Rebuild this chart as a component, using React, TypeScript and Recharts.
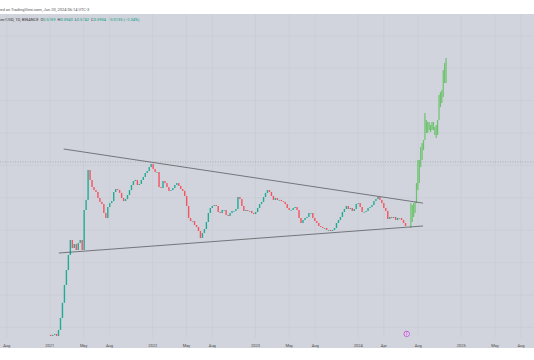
import React from 'react';
import { ComposedChart, Bar, XAxis, YAxis, CartesianGrid, ReferenceLine, ReferenceDot } from 'recharts';

const DAY = 86400000;

// weekly candles, first week starts 2021-01-04
const firstWeek = Date.UTC(2021, 0, 4);
const firstOpen = 0.0257;
const weeklyCloses = [
  0.0249, 0.0257, 0.0264, 0.0249, 0.0296, 0.0418, 0.0647, 0.108, 0.166, 0.256,
  0.394, 0.313, 0.351, 0.296, 0.362, 0.394, 0.296, 0.935, 1.25, 2.96,
  2.22, 1.81, 1.66, 1.57, 1.32, 1.18, 1.11, 0.858, 0.743, 1.02,
  1.14, 1.21, 1.57, 1.71, 1.66, 1.53, 1.32, 1.21, 1.28, 1.44,
  1.66, 1.92, 2.15, 2.22, 1.92, 1.98, 2.22, 2.42, 2.71, 2.87,
  3.22, 3.51, 3.04, 2.79, 2.79, 1.81, 1.76, 2.15, 2.03, 1.81,
  1.62, 1.66, 1.76, 1.92, 2.03, 1.87, 1.71, 1.62, 1.4, 1.05,
  0.743, 0.681, 0.681, 0.607, 0.573, 0.511, 0.418, 0.482, 0.541, 0.662,
  0.858, 0.99, 1.05, 1.08, 1.05, 0.883, 0.858, 0.935, 0.935, 0.81,
  0.787, 0.858, 0.909, 0.909, 0.962, 1.36, 1.28, 1.05, 0.909, 0.935,
  0.909, 0.909, 0.858, 0.833, 0.883, 0.99, 1.11, 1.18, 1.36, 1.53,
  1.66, 1.57, 1.4, 1.25, 1.32, 1.25, 1.25, 1.21, 1.18, 1.11,
  0.99, 0.935, 0.935, 0.99, 1.02, 0.935, 0.743, 0.643, 0.701, 0.743,
  0.765, 0.858, 0.858, 0.743, 0.681, 0.643, 0.59, 0.573, 0.557, 0.557,
  0.526, 0.526, 0.511, 0.526, 0.557, 0.643, 0.701, 0.765, 0.883, 0.962,
  1.05, 0.962, 0.99, 0.909, 0.962, 1.11, 1.14, 1.02, 0.883, 0.883,
  0.909, 0.99, 1.02, 1.08, 1.21, 1.28, 1.36, 1.25, 1.14, 0.99,
  0.909, 0.722, 0.765, 0.743, 0.765, 0.701, 0.743, 0.743, 0.701, 0.643,
  0.59,
];

// projected bars (bars pattern), every 5 days from 2024-07-06
const projStart = Date.UTC(2024, 6, 6);
const projLows = [
  0.557, 0.662, 0.765, 0.858, 1.14, 1.66, 2.03, 3.22, 3.94, 5.26,
  7.01, 8.58, 8.58, 9.35, 8.83, 9.35, 9.35, 8.1, 7.43, 8.1,
  12.47, 18.1, 20.3, 24.2, 36.2, 36.2,
];
const projHighs = [
  1.14, 1.08, 1.14, 1.18, 2.03, 3.94, 3.94, 5.73, 6.43, 7.01,
  15.25, 12.47, 11.77, 11.77, 10.8, 11.77, 11.77, 10.19, 10.8, 12.47,
  25.6, 27.9, 29.6, 52.6, 64.3, 74.3,
];

const allTimeHigh = 3.73;
const upperTrend = [
  { t: Date.UTC(2021, 1, 19), p: 5.41 },
  { t: Date.UTC(2024, 7, 18), p: 1.14 },
];
const lowerTrend = [
  { t: Date.UTC(2021, 1, 2), p: 0.271 },
  { t: Date.UTC(2024, 7, 18), p: 0.59 },
];

const tickTimes = [
  Date.UTC(2020, 7, 1), Date.UTC(2021, 0, 1), Date.UTC(2021, 4, 1), Date.UTC(2021, 7, 1),
  Date.UTC(2022, 0, 1), Date.UTC(2022, 4, 1), Date.UTC(2022, 7, 1),
  Date.UTC(2023, 0, 1), Date.UTC(2023, 4, 1), Date.UTC(2023, 7, 1),
  Date.UTC(2024, 0, 1), Date.UTC(2024, 3, 1), Date.UTC(2024, 7, 1),
  Date.UTC(2025, 0, 1), Date.UTC(2025, 4, 1), Date.UTC(2025, 7, 1),
];
const tickLabels = ['Aug', '2021', 'May', 'Aug', '2022', 'May', 'Aug', '2023', 'May', 'Aug', '2024', 'Apr', 'Aug', '2025', 'May', 'Aug'];

const gridPrices = [
  192, 141, 103, 75.5, 55.3, 40.5, 29.7, 21.8, 16.0, 11.7, 8.57, 6.28, 4.6, 3.37, 2.47,
  1.81, 1.33, 0.973, 0.713, 0.523, 0.383, 0.281, 0.206, 0.151, 0.11, 0.0809, 0.0593, 0.0434, 0.0318,
];

const eventDate = Date.UTC(2024, 5, 21);

const data = [
  ...weeklyCloses.map((c, i) => {
    const o = i === 0 ? firstOpen : weeklyCloses[i - 1];
    return { t: firstWeek + i * 7 * DAY, range: [Math.min(o, c), Math.max(o, c)], kind: c >= o ? 'up' : 'down' };
  }),
  ...projLows.map((lo, i) => ({ t: projStart + i * 5 * DAY, range: [lo, projHighs[i]], kind: 'proj' })),
];

const Candle = (props: any) => {
  const { x, y, width, height, payload } = props;
  if (x == null || y == null) return null;
  const cx = x + width / 2;
  const top = Math.min(y, y + height);
  const h = Math.max(Math.abs(height), 0.7);
  if (payload.kind === 'proj') {
    return <rect x={cx - 0.6} y={top} width={1.2} height={h} fill="#6cc36c" />;
  }
  return <rect x={cx - 0.7} y={top} width={1.4} height={h} fill={payload.kind === 'up' ? '#22ab94' : '#f7525f'} />;
};

const TimeTick = (props: any) => {
  const { x, y, payload } = props;
  const idx = tickTimes.indexOf(payload.value);
  return (
    <text x={x} y={y + 7} textAnchor="middle" fontSize={4} fill="#4a4a4a" fontFamily="Roboto">
      {tickLabels[idx]}
    </text>
  );
};

const EventMark = (props: any) => {
  const { cx, cy } = props;
  return (
    <g>
      <circle cx={cx} cy={cy} r={2.7} fill="#f3e5f5" stroke="#b04ad0" strokeWidth={0.8} />
      <text x={cx} y={cy + 1.2} textAnchor="middle" fontSize={3.2} fill="#9c27b0" fontFamily="Roboto">₿</text>
    </g>
  );
};

export default function App() {
  return (
    <div style={{ position: 'fixed', left: 0, top: 0, width: 534, height: 360, background: '#fff', overflow: 'hidden', fontFamily: 'Roboto, sans-serif' }}>
      <div style={{ position: 'absolute', left: 0, top: 14, width: 534, height: 334, background: '#d1d4dc' }} />
      <div style={{ position: 'absolute', left: -1, top: 7, fontSize: 4, color: '#555', whiteSpace: 'nowrap', lineHeight: '5px' }}>
        ted on TradingView.com, Jun 20, 2024 06:14 UTC-3
      </div>
      <div style={{ position: 'absolute', left: -1, top: 17, fontSize: 4, color: '#333', whiteSpace: 'pre', lineHeight: '5px' }}>
        {'ver/USD, 1D, BINANCE  '}
        <span>O</span><span style={{ color: '#089981' }}>{'0.5769  '}</span>
        <span>H</span><span style={{ color: '#089981' }}>{'0.5943  '}</span>
        <span>L</span><span style={{ color: '#089981' }}>{'0.5742  '}</span>
        <span>C</span><span style={{ color: '#089981' }}>{'0.5904  −0.0135 (−2.34%)'}</span>
      </div>
      <div style={{ position: 'absolute', left: 0, top: 14 }}>
        <ComposedChart width={534} height={334} data={data} margin={{ top: 0, right: 0, bottom: 0, left: 0 }}>
          <CartesianGrid stroke="#c8cbd3" strokeWidth={0.6} horizontalValues={gridPrices} verticalValues={tickTimes} />
          <XAxis
            dataKey="t"
            type="number"
            domain={[Date.UTC(2020, 6, 8), Date.UTC(2025, 8, 16)]}
            allowDataOverflow
            ticks={tickTimes}
            interval={0}
            tick={<TimeTick />}
            axisLine={false}
            tickLine={false}
            tickSize={0}
            height={10}
          />
          <YAxis hide scale="log" domain={[0.02349, 263.5]} allowDataOverflow ticks={gridPrices} />
          <ReferenceLine y={allTimeHigh} stroke="#8f939c" strokeWidth={0.6} strokeDasharray="1 1.5" />
          <Bar dataKey="range" barSize={2} shape={<Candle />} isAnimationActive={false} />
          <ReferenceLine
            segment={[{ x: upperTrend[0].t, y: upperTrend[0].p }, { x: upperTrend[1].t, y: upperTrend[1].p }]}
            stroke="#4a4c52"
            strokeWidth={0.7}
          />
          <ReferenceLine
            segment={[{ x: lowerTrend[0].t, y: lowerTrend[0].p }, { x: lowerTrend[1].t, y: lowerTrend[1].p }]}
            stroke="#4a4c52"
            strokeWidth={0.7}
          />
          <ReferenceDot x={eventDate} y={0.0264} r={2.7} shape={<EventMark />} />
        </ComposedChart>
      </div>
    </div>
  );
}
